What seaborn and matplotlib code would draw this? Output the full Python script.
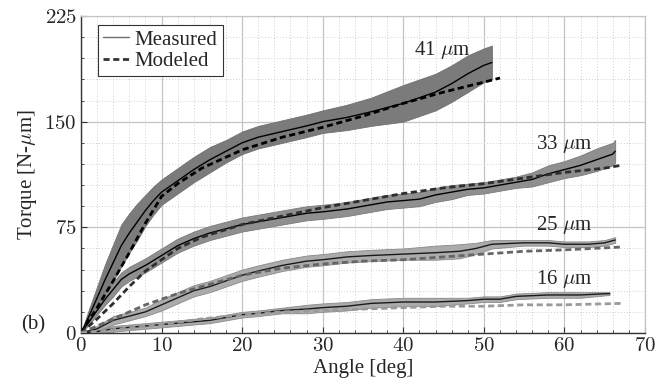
import numpy as np
import pandas as pd
import matplotlib
matplotlib.use("Agg")
import matplotlib.pyplot as plt
from matplotlib.lines import Line2D
from matplotlib.ticker import MultipleLocator, FuncFormatter
import seaborn as sns

# ---------------- data ----------------
x41 = [0, 1, 2, 3, 4, 5, 6, 7, 8, 9, 10, 12, 14, 16, 18, 20, 22, 25, 28, 30, 33, 36, 40, 42, 44, 46, 48, 50, 51]
m41 = [0, 12, 25, 38, 50, 62, 71, 79, 87, 94, 100, 108, 116, 123, 129, 135, 139, 143, 147, 150, 153, 157, 163, 167, 171, 177, 184, 190, 192]
w41 = [0, 5, 8, 11, 13, 15, 14, 13, 11, 10, 9, 9, 9, 9, 8, 8, 8, 8, 8, 8, 9, 10, 13, 13, 13, 13, 13, 12, 12]
xm41 = [0, 2, 4, 6, 8, 10, 12, 15, 20, 25, 30, 35, 40, 45, 50, 52]
mod41 = [0, 18, 37, 57, 78, 97, 106, 117, 130, 139, 146, 154, 163, 171, 178, 181]

x33 = [0, 1, 2, 3, 4, 5, 6, 7, 8, 10, 12, 14, 16, 18, 20, 22, 25, 28, 30, 33, 36, 38, 40, 42, 44, 46, 48, 50, 52, 54, 56, 58, 60, 62, 64, 66, 66.3]
m33 = [0, 8, 16, 24, 31, 38, 42, 45, 48, 55, 62, 67, 71, 74, 77, 79, 82, 85, 86, 88, 91, 93, 94, 95, 98, 100, 102, 103, 105, 107, 109, 113, 116, 119, 123, 127, 129]
w33 = [0, 2, 3, 4, 5, 5, 5, 5, 5, 5, 5, 5, 5, 5, 5, 5, 5, 5, 5, 5, 5, 5, 5, 5, 5, 5, 4, 4, 4, 4, 5, 6, 6, 7, 8, 8, 8]
xm33 = [0, 2, 4, 6, 8, 10, 12, 15, 20, 25, 30, 35, 40, 45, 50, 55, 60, 65, 67]
mod33 = [0, 10, 21, 33, 44, 52, 60, 68, 77, 83, 89, 94, 99, 103, 106, 110, 114, 117, 119]

x25 = [0, 2, 4, 6, 8, 10, 12, 14, 16, 18, 20, 22, 25, 28, 30, 33, 36, 40, 44, 47, 49, 51, 55, 58, 60, 63, 65, 66.3]
m25 = [0, 3, 9, 12, 15, 20, 25, 30, 33, 37, 41, 44, 48, 51, 52, 54, 55, 56, 57, 58, 60, 63, 64, 64, 63, 63, 64, 66]
w25 = [0, 2, 3, 3, 3, 4, 4, 4, 4, 4, 4, 4, 4, 4, 4, 4, 4, 4, 5, 5, 4, 3, 2, 2, 2, 2, 2, 2]
xm25 = [0, 2, 4, 6, 8, 10, 12, 15, 20, 25, 30, 35, 40, 45, 50, 55, 60, 67]
mod25 = [0, 5, 10, 15, 20, 24, 28, 33, 41, 46, 49, 51, 52, 54, 56, 58, 59, 61]

x16 = [0, 2, 4, 6, 8, 10, 12, 14, 16, 18, 20, 22, 25, 28, 30, 33, 36, 40, 44, 48, 50, 52, 54, 58, 62, 65.6]
m16 = [0, 1, 3, 4, 5, 6, 7, 8, 9, 11, 13, 14, 16, 17, 18, 19, 21, 22, 22, 23, 24, 24, 26, 27, 27, 28]
w16 = [0, 1, 2, 2, 2, 2, 2, 2, 2, 2, 2, 2, 2, 3, 3, 3, 3, 3, 3, 2, 2, 2, 2, 2, 2, 1]
xm16 = [0, 5, 10, 15, 20, 25, 30, 35, 40, 45, 50, 55, 60, 67]
mod16 = [0, 3, 6, 10, 13, 15, 16, 17, 18, 19, 19, 20, 20, 21]

labels = ["41 $\\mu$m", "33 $\\mu$m", "25 $\\mu$m", "16 $\\mu$m"]
label_pos = [(44.8, 201), (60, 134), (60, 77), (60, 38)]

# ---------------- style ----------------
sns.set_theme(style="white")
plt.rcParams["font.family"] = ["Liberation Serif", "DejaVu Serif"]
plt.rcParams["mathtext.fontset"] = "cm"

fig = plt.figure(figsize=(6.67, 3.85), dpi=100)
ax = fig.add_axes([81 / 667, 1 - 333 / 385, (645 - 81) / 667, (333 - 16) / 385])

series = [
    (x41, m41, w41, xm41, mod41, "#7b7b7b", "#707070", "#000000", "#000000"),
    (x33, m33, w33, xm33, mod33, "#8f8f8f", "#7a7a7a", "#000000", "#2e2e2e"),
    (x25, m25, w25, xm25, mod25, "#ababab", "#8a8a8a", "#1a1a1a", "#666666"),
    (x16, m16, w16, xm16, mod16, "#ababab", "#8a8a8a", "#1a1a1a", "#9a9a9a"),
]

for i, (xs, ms, ws, xm, mod, band_c, edge_c, line_c, mod_c) in enumerate(series):
    xs = np.asarray(xs, float)
    ms = np.asarray(ms, float)
    ws = np.asarray(ws, float)
    ax.fill_between(xs, ms - ws, ms + ws, facecolor=band_c, lw=0.6,
                    edgecolor=edge_c, zorder=2 + i * 0.1)
    df = pd.DataFrame({"x": xs, "y": ms})
    sns.lineplot(data=df, x="x", y="y", ax=ax, color=line_c, lw=1.0, zorder=3)
    dm = pd.DataFrame({"x": xm, "y": mod})
    sns.lineplot(data=dm, x="x", y="y", ax=ax, color=mod_c, lw=2.0,
                 linestyle=(0, (2.2, 1.3)), zorder=4)

for lab, (lx, ly) in zip(labels, label_pos):
    ax.text(lx, ly, lab, ha="center", va="center", fontsize=15)

ax.set_xlim(0, 70)
ax.set_ylim(0, 225)
ax.xaxis.set_major_locator(MultipleLocator(10))
ax.xaxis.set_minor_locator(MultipleLocator(2))
ax.yaxis.set_major_locator(MultipleLocator(75))
ax.yaxis.set_minor_locator(MultipleLocator(15))
fmt = FuncFormatter(lambda v, p: f"${v:g}$")
ax.xaxis.set_major_formatter(fmt)
ax.yaxis.set_major_formatter(fmt)
ax.grid(which="major", color="#c4c4c4", lw=0.9, ls="-", zorder=0)
ax.grid(which="minor", color="#d0d0d0", lw=0.7, ls=(0, (1, 2)), zorder=0)
ax.set_axisbelow(True)

ax.tick_params(axis="both", which="both", direction="in", bottom=True, left=True,
               top=False, right=False, labelsize=15, color="#333333", pad=3)
ax.tick_params(which="major", length=4, width=0.8)
ax.tick_params(which="minor", length=2.5, width=0.6)

for s in ["left", "bottom"]:
    ax.spines[s].set_color("#333333")
    ax.spines[s].set_linewidth(1.0)
for s in ["top", "right"]:
    ax.spines[s].set_color("#c4c4c4")
    ax.spines[s].set_linewidth(0.9)

ax.set_xlabel("Angle [deg]", fontsize=15, labelpad=2)
ax.set_ylabel("Torque [N-$\\mu$m]", fontsize=15, labelpad=4)

handles = [Line2D([], [], color="#6e6e6e", lw=1.0),
           Line2D([], [], color="#333333", lw=2.0, ls=(0, (2.2, 1.3)))]
leg = ax.legend(handles, ["Measured", "Modeled"], loc="upper left", fontsize=15,
                frameon=True, fancybox=False, framealpha=1, edgecolor="#333333",
                borderpad=0.25, labelspacing=0.1, handlelength=1.25,
                handletextpad=0.25, borderaxespad=0.5,
                bbox_to_anchor=(0.012, 1.005))
leg.get_frame().set_linewidth(0.8)

fig.text(33 / 667, 1 - 325 / 385, "(b)", ha="center", va="center", fontsize=15)

fig.savefig("out.png", dpi=100)
